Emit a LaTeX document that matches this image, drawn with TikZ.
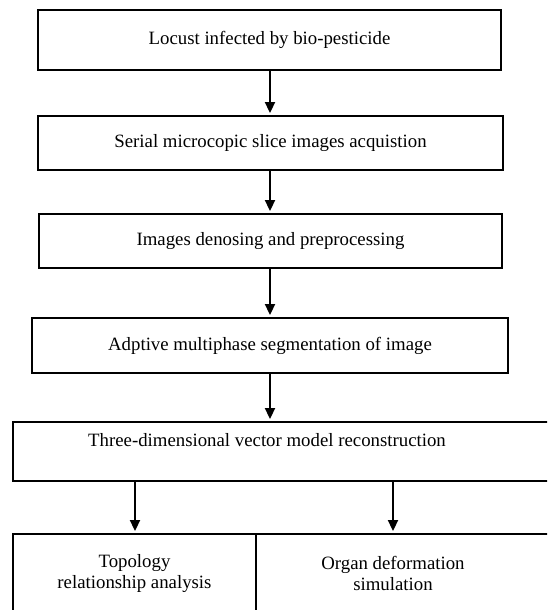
\documentclass[tikz,border=0pt]{standalone}
\usepackage{fontspec}
\setmainfont{Liberation Serif}
\usetikzlibrary{arrows.meta}

\tikzset{
  caption/.style={font=\fontsize{18.8}{21}\selectfont, align=center},
  stage/.style={draw, line width=1.9pt, minimum height=54pt, inner sep=0pt, caption},
  flow/.style={-{Triangle[length=11pt,width=10pt]}, line width=1.9pt, shorten >=2pt},
}

\begin{document}
\begin{tikzpicture}[x=1pt,y=-1pt]
    \useasboundingbox (0,0) rectangle (547,610) ;
    \clip (0,0) rectangle (547,610) ;
    % main chain of steps
    \node[stage, minimum width=463pt, minimum height=60pt] (locust) at (269.5,40) {Locust infected by bio-pesticide} ;
    \node[stage, minimum width=465pt] (slices) at (270.5,143) {Serial microcopic slice images acquistion} ;
    \node[stage, minimum width=463pt] (denoise) at (270.5,241) {Images denosing and preprocessing} ;
    \node[stage, minimum width=476pt, minimum height=55pt] (segment) at (270,345.5) {Adptive multiphase segmentation of image} ;
    % the model box runs off past the right edge
    \node[stage, minimum width=557pt, minimum height=59pt] (recon) at (291.5,451.5) {} ;
    \node[caption] (reconText) at (267,440) {Three-dimensional vector model reconstruction} ;
    % two results side by side
    \node[stage, minimum width=243pt, minimum height=78pt] (topo) at (134.5,573) {Topology\\relationship analysis} ;
    \node[stage, minimum width=304pt, minimum height=78pt] (organ) at (408,573) {} ;
    \node[caption] (organText) at (393,573) {Organ deformation\\simulation} ;
    % arrows
    \draw[flow] (locust.south -| 270,0) -- (slices.north -| 270,0) ;
    \draw[flow] (slices.south -| 270,0) -- (denoise.north -| 270,0) ;
    \draw[flow] (denoise.south -| 270,0) -- (segment.north -| 270,0) ;
    \draw[flow] (segment.south) -- (segment.south |- recon.north) ;
    \draw[flow] (recon.south -| 135,0) -- (topo.north -| 135,0) ;
    \draw[flow] (recon.south -| organText) -- (organText |- organ.north) ;
\end{tikzpicture}
\end{document}
